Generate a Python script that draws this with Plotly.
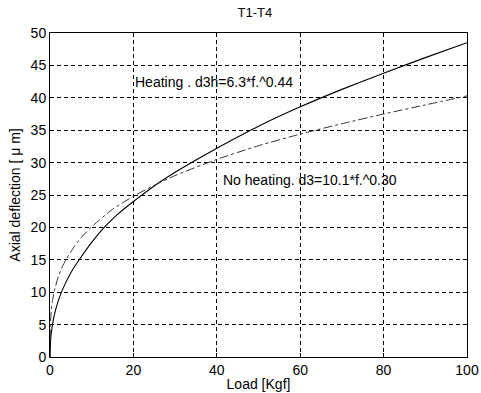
import plotly.graph_objects as go

# Heating curve (solid)
heat_x = [0, 0.2, 0.5, 1, 2, 3, 5, 7, 10, 13, 16, 20, 25, 30, 35, 40, 50, 60, 70, 80, 90, 100]
heat_y = [0, 3.0, 4.6, 6.4, 8.7, 10.4, 13.0, 15.0, 17.7, 20.0, 21.9, 24.0, 26.4, 28.5, 30.4, 32.2,
          35.6, 38.6, 41.3, 43.8, 46.2, 48.5]

# No heating curve (dash-dot)
noheat_x = [0, 0.1, 0.3, 0.6, 1, 2, 3, 4, 6, 8, 10, 15, 20, 25, 30, 40, 50, 60, 70, 80, 90, 100]
noheat_y = [0, 5.0, 7.2, 8.7, 10.1, 12.4, 14.0, 15.2, 17.2, 18.8, 20.1, 22.8, 24.8, 26.5, 28.0, 30.5,
            32.6, 34.4, 36.0, 37.5, 38.9, 40.3]

x_ticks = [0, 20, 40, 60, 80, 100]
y_ticks = [0, 5, 10, 15, 20, 25, 30, 35, 40, 45, 50]

font = "Liberation Sans, Arial, sans-serif"

fig = go.Figure()
fig.add_trace(go.Scatter(x=heat_x, y=heat_y, mode="lines",
                         line=dict(color="black", width=1.1, shape="spline", smoothing=0.6),
                         name="Heating", showlegend=False))
fig.add_trace(go.Scatter(x=noheat_x, y=noheat_y, mode="lines",
                         line=dict(color="#333333", width=1, dash="dashdot", shape="spline", smoothing=0.6),
                         name="No heating", showlegend=False))

fig.add_annotation(x=20, y=42.4, text="Heating . d3h=6.3*f.^0.44", showarrow=False, xanchor="left", yanchor="middle",
                   font=dict(family=font, size=14, color="black"))
fig.add_annotation(x=41, y=27.3, text="No heating. d3=10.1*f.^0.30", showarrow=False, xanchor="left", yanchor="middle",
                   font=dict(family=font, size=14, color="black"))

axis_common = dict(showline=True, linecolor="black", linewidth=1, mirror=True,
                   showgrid=True, gridcolor="black", gridwidth=1, griddash="4px,3px",
                   zeroline=False, ticks="inside", ticklen=4, tickcolor="black", automargin=False,
                   tickfont=dict(family=font, size=14, color="black"))

fig.update_xaxes(range=[0, 100], tickvals=x_ticks,
                 title=dict(text="Load [Kgf]", font=dict(family=font, size=14, color="black"), standoff=2),
                 **axis_common)
fig.update_yaxes(range=[0, 50], tickvals=y_ticks,
                 title=dict(text="Axial deflection [ μ m]", font=dict(family=font, size=14, color="black"), standoff=6),
                 **axis_common)

fig.update_layout(width=481, height=393, margin=dict(l=50, r=14, t=33, b=36),
                  paper_bgcolor="white", plot_bgcolor="white",
                  title=dict(text="T1-T4", x=0.53, xanchor="center", y=0.968, yanchor="middle",
                             font=dict(family=font, size=13, color="black")))

fig.write_html("out.html", config={"displayModeBar": False},
               post_script="document.body.style.margin='0';document.body.style.overflow='hidden';")
